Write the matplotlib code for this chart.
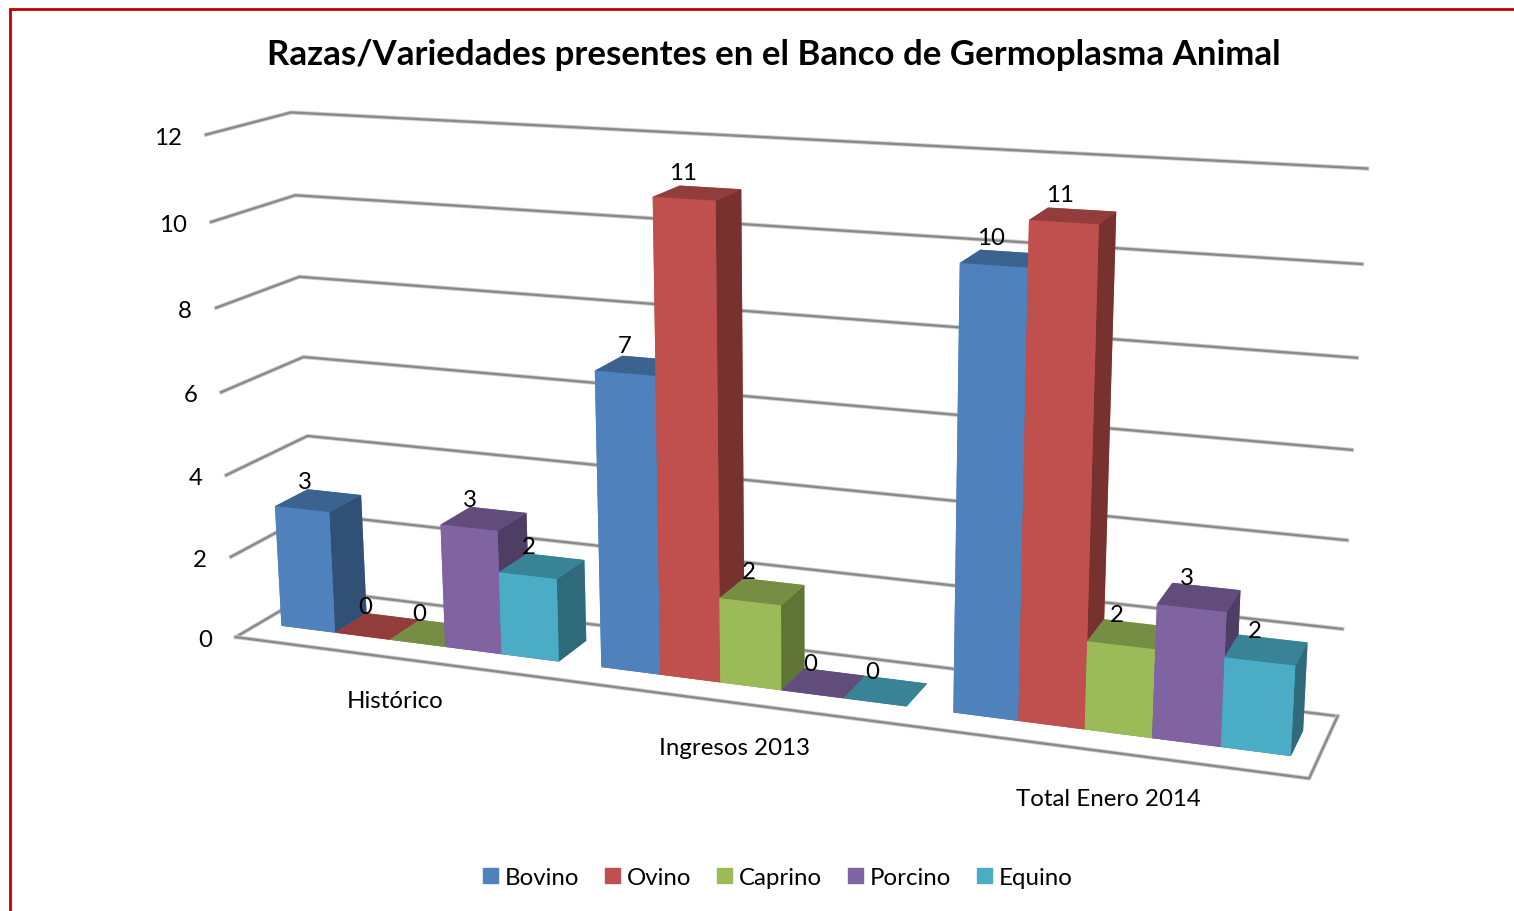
import numpy as np
import matplotlib
matplotlib.use('Agg')
from matplotlib import pyplot as plt
from matplotlib.patches import Patch, Rectangle
from mpl_toolkits.mplot3d import proj3d

categories = ['Histórico', 'Ingresos 2013', 'Total Enero 2014']
series = ['Bovino', 'Ovino', 'Caprino', 'Porcino', 'Equino']
bovino = [3, 7, 10]
ovino = [0, 11, 11]
caprino = [0, 2, 2]
porcino = [3, 0, 3]
equino = [2, 0, 2]
values = [bovino, ovino, caprino, porcino, equino]
colors = ['#4F81BD', '#C0504D', '#9BBB59', '#8064A2', '#4BACC6']
yticks = [0, 2, 4, 6, 8, 10, 12]

plt.rcParams['font.family'] = ['Lato', 'DejaVu Sans']
W, H = 1514, 912
FS = 17.3
fig = plt.figure(figsize=(W / 100, H / 100), dpi=100)

# camera fitted against the corners of the reference walls
s, cx, cy = 6695.8, 760.7, 420.7
L = s * 0.185
ax = fig.add_axes([(cx - s * 0.095) / W, (H - cy - s * 0.095) / H, L / W, L / H], projection='3d')
XMAX = 17.25
ax.set_xlim(0, XMAX)
ax.set_ylim(0, 1)
ax.set_zlim(0, 12)
ax.view_init(elev=14.772, azim=-69.154, roll=0.309)
ax.set_proj_type('persp', focal_length=0.3933)
ax.set_box_aspect((1, 0.1471, 0.4738))
ax.set_axis_off()
ax.patch.set_alpha(0)
ax.computed_zorder = False
M = ax.get_proj()


def label(x, y, z, txt, dx=0, dy=0, ha='center'):
    u, v, _ = proj3d.proj_transform(x, y, z, M)
    ax.annotate(txt, xy=(u, v), xycoords='data', xytext=(dx, dy), textcoords='offset pixels',
                ha=ha, va='center', fontsize=FS, zorder=50, annotation_clip=False)


def shade(c, f):
    return tuple(np.array(matplotlib.colors.to_rgb(c)) * f)


def gridline(xs, ys, zs):
    ax.plot(xs, ys, zs, color='#cfcfcf', lw=3, zorder=1, clip_on=False)
    ax.plot(xs, ys, zs, color='#8a8a8a', lw=1.7, zorder=1, clip_on=False)


for z in yticks:
    gridline([0, 0, XMAX], [0, 1, 1], [z, z, z])
    label(0, 0, z, str(z), -24, -2.5, ha='right')
gridline([0, XMAX, XMAX], [0, 0, 1], [0, 0, 0])

y0, dy = 0.29, 0.41
zo = 2
for i, cat in enumerate(categories):
    left = i * 5.73 + 0.41
    for j in range(5):
        v = values[j][i]
        c = colors[j]
        # faces: bottom, top, front, back, left, right
        faces = [shade(c, .76), shade(c, .76), c, c, c, shade(c, .62)]
        ax.bar3d(left + j, y0, 0, 1, dy, v, color=faces, shade=False, zorder=zo, linewidth=0)
        zo += 1
        xc = left + j + 0.5
        label(xc, y0, v + 0.6, str(v), 5 - 0.7 * xc, 5.5 - 0.6 * v)
    label(left + 2.47 + 0.04 * i, 0, -1.1, cat, 0, 2)

fig.text(773.5 / W, 1 - 55 / H, 'Razas/Variedades presentes en el Banco de Germoplasma Animal',
         ha='center', va='center', fontsize=25.1, fontweight='bold')
handles = [Patch(color=c, label=n) for c, n in zip(colors, series)]
fig.legend(handles=handles, loc='center', bbox_to_anchor=(778 / W, 1 - 878.5 / H), ncol=5, frameon=False,
           fontsize=FS, handlelength=0.62, handleheight=0.62, handletextpad=0.3, columnspacing=1.06)
fig.add_artist(Rectangle((9.5 / W, -0.1), 1.2, 1 - 9.5 / H + 0.1, fill=False, edgecolor='#C00000', lw=2,
                         transform=fig.transFigure))
fig.savefig('out.png', dpi=100)
